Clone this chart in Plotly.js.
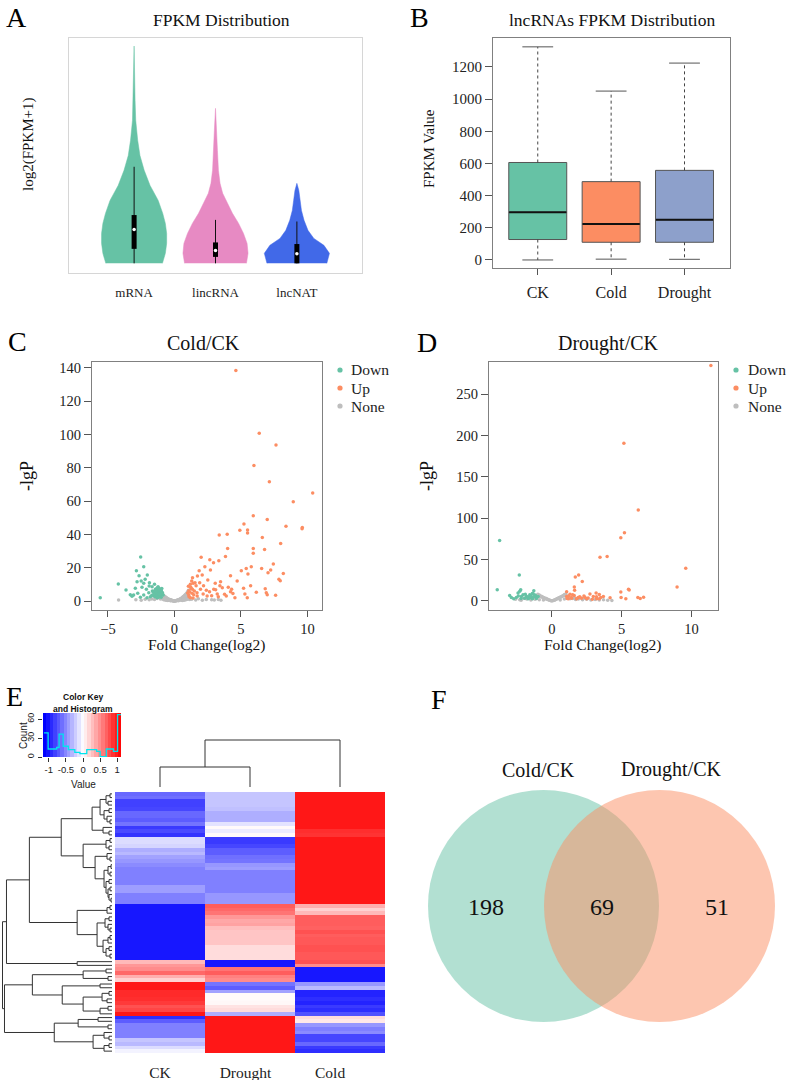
<!DOCTYPE html>
<html><head><meta charset="utf-8">
<script src="https://cdn.plot.ly/plotly-3.0.1.min.js"></script>
<style>html,body{margin:0;padding:0;background:#fff}#chart{width:787px;height:1080px}</style>
</head><body><div id="chart"></div>
<script>
// ================= DATA =================
// Panel A: violin outlines (level = log2(FPKM+1), density = relative half width)
const violinNames = ['mRNA', 'lincRNA', 'lncNAT'];
const mrnaLevels   = [0, 0.62, 1.24, 1.86, 2.48, 3.1, 3.91, 4.84, 5.78, 6.7, 7.64, 8.88, 10.1, 12.2, 13.5];
const mrnaDensity  = [0.87, 0.96, 1.0, 1.0, 0.96, 0.88, 0.74, 0.49, 0.31, 0.18, 0.11, 0.05, 0.03, 0.015, 0];
const lincLevels   = [0, 0.62, 1.24, 1.86, 2.48, 3.11, 3.73, 4.35, 4.97, 5.78, 7.0, 8.26, 9.63];
const lincDensity  = [0.95, 1.0, 0.97, 0.86, 0.71, 0.52, 0.37, 0.22, 0.14, 0.09, 0.06, 0.035, 0];
const natLevels    = [0, 0.62, 1.12, 1.55, 2.05, 2.67, 3.29, 3.91, 4.53, 4.97];
const natDensity   = [0.92, 1.0, 0.83, 0.52, 0.34, 0.22, 0.14, 0.1, 0.06, 0];
const aMin = [0, 0, 0], aQ1 = [0.9, 0.4, 0], aMed = [2.1, 0.8, 0.6], aQ3 = [3.0, 1.3, 1.2], aMax = [6.0, 2.7, 2.6];

// Panel B: lncRNA FPKM box statistics
const bCats = ['CK', 'Cold', 'Drought'];
const bMin = [0, 5, 4], bQ1 = [127, 110, 110], bMed = [296, 223, 250], bQ3 = [606, 487, 557], bMax = [1325, 1050, 1224];

// Panels C/D legend
const volcanoClasses = ['Down', 'Up', 'None'];

// Panel C: Cold/CK volcano  [log2 fold change, -lgP]
const coldUp = [[4.62,138.5],[6.38,100.8],[7.64,93.8],[5.98,81.4],[7.14,71.7],[10.4,64.9],[8.94,59.7],[5.93,51.3],[6.98,48.9],[5.23,46.3],[8.39,44.9],[9.62,44.1],[9.6,43.4],[4.92,42.5],[5.5,42.7],[5.5,40.9],[3.37,39.7],[3.97,40.1],[6.61,38.1],[7.99,34.5],[4.0,31.5],[5.93,31.5],[6.78,30.9],[5.93,28.7],[3.84,26.7],[2.01,26.3],[2.66,24.8],[3.34,24.2],[2.94,23.0],[7.44,22.2],[2.29,20.6],[5.78,20.6],[5.4,19.6],[6.56,19.6],[2.71,18.6],[1.86,18.2],[5.03,18.2],[7.24,18.6],[8.19,16.6],[7.04,17.0],[5.53,16.2],[4.22,15.2],[2.09,15.6],[1.73,15.0],[1.36,14.0],[2.51,12.6],[7.86,13.0],[7.96,12.2],[4.72,12.0],[3.47,11.6],[1.41,10.6],[3.07,10.6],[1.63,9.2],[2.19,9.2],[5.73,9.2],[3.42,9.2],[4.05,8.2],[5.2,7.6],[6.83,7.4],[1.23,8.2],[1.96,7.0],[2.96,7.0],[1.08,6.2],[2.64,5.6],[4.22,5.6],[6.16,5.2],[6.91,5.0],[1.33,4.6],[2.16,4.2],[3.22,4.2],[3.77,4.0],[5.3,4.2],[6.98,3.8],[7.61,3.4],[1.08,3.6],[1.71,3.0],[2.46,3.0],[4.55,2.0],[5.48,2.0],[1.2,10],[1.5,6],[1.3,12],[1.7,5],[1.1,2.5],[1.4,1.8],[1.9,11],[2.4,6.5],[2.8,3.2],[3.1,6.8],[3.3,2.5],[3.6,8],[3.9,3],[4.3,7],[4.4,4.5],[1.25,7.5],[1.55,11],[1.0,4.8],[1.15,5.4],[1.35,7.0],[1.05,8.8],[1.45,3.8],[1.2,2.0]];
const coldDown = [[-5.58,2.0],[-4.22,10.2],[-3.64,6.6],[-3.32,3.8],[-3.07,3.6],[-2.54,26.5],[-2.86,18.2],[-2.31,20.6],[-2.66,15.2],[-2.04,15.6],[-2.81,11.6],[-2.31,10.6],[-2.94,7.6],[-2.44,8.2],[-1.88,11.0],[-2.11,7.0],[-1.68,8.6],[-2.76,4.6],[-2.31,3.6],[-1.93,5.0],[-1.56,3.0],[-1.38,6.6],[-1.23,8.6],[-1.11,7.0],[-1.31,5.0],[-0.98,5.6],[-1.16,4.2],[-1.43,3.6],[-1.66,6.0],[-1.06,3.2],[-1.81,2.6],[-2.06,2.0],[-0.93,4.6],[-1.51,5.0],[-1.26,2.6],[-2.56,2.2],[-3.19,2.8],[-0.85,3.6],[-1.2,6],[-1.0,6.5],[-1.4,4],[-1.1,3],[-1.3,7.5],[-1.6,5.5],[-1.9,9],[-2.2,13],[-2.5,12],[-1.5,10],[-0.95,7.5],[-1.05,4],[-1.25,3.5],[-1.45,2.5],[-1.15,5.5],[-1.35,4.5],[-1.0,2.2],[-1.1,5.2],[-1.2,4.6],[-1.3,6.2],[-1.4,5.4],[-1.25,3.0],[-1.05,6.0],[-1.15,7.6],[-1.35,3.2],[-1.45,6.8],[-1.0,3.8],[-1.2,2.2],[-1.1,4.0],[-1.3,2.0],[-0.9,5.0],[-1.4,7.2],[-1.55,4.2],[-1.7,3.4],[-1.28,8.0],[-1.18,6.6]];
const coldNone = [[-4.2,0.6],[-2.9,0.8],[-2.5,0.5],[-2.2,1.0],[-1.9,0.7],[-1.7,1.2],[-1.5,0.9],[-1.3,1.5],[-1.2,2.5],[-1.1,3.8],[-1.05,1.2],[-1.0,4.6],[-0.98,2.0],[-0.95,5.2],[-0.92,3.0],[-0.9,4.1],[-0.87,1.5],[-0.85,3.6],[-0.82,2.4],[-0.8,3.2],[-0.78,1.1],[-0.75,2.8],[-0.72,2.0],[-0.7,2.5],[-0.68,0.9],[-0.65,2.2],[-0.62,1.6],[-0.6,1.9],[-0.58,0.7],[-0.55,1.6],[-0.52,1.2],[-0.5,1.4],[-0.48,0.6],[-0.45,1.1],[-0.42,0.8],[-0.4,1.0],[-0.38,0.5],[-0.35,0.8],[-0.32,0.6],[-0.3,0.7],[-0.28,0.3],[-0.25,0.5],[-0.22,0.4],[-0.2,0.4],[-0.18,0.2],[-0.15,0.3],[-0.12,0.2],[-0.1,0.2],[-0.08,0.1],[-0.05,0.1],[-0.02,0.05],[0,0.05],[0.02,0.1],[0.05,0.1],[0.08,0.2],[0.1,0.2],[0.12,0.15],[0.15,0.3],[0.18,0.35],[0.2,0.4],[0.22,0.3],[0.25,0.5],[0.28,0.6],[0.3,0.7],[0.32,0.5],[0.35,0.9],[0.38,0.7],[0.4,1.1],[0.42,0.8],[0.45,1.3],[0.48,0.9],[0.5,1.5],[0.52,1.1],[0.55,1.8],[0.58,1.3],[0.6,2.1],[0.62,1.5],[0.65,2.5],[0.68,1.6],[0.7,2.8],[0.72,2.0],[0.75,3.2],[0.78,2.2],[0.8,3.6],[0.82,2.6],[0.85,4.0],[0.88,2.9],[0.9,4.4],[0.92,3.1],[0.95,5.0],[0.98,3.4],[1.0,5.6],[1.02,2.2],[1.05,6.4],[1.1,1.5],[1.15,0.9],[1.3,1.1],[1.6,0.6],[1.8,1.3],[2.1,0.5],[2.4,0.9],[2.8,0.8],[3.0,0.6],[3.3,0.9],[3.5,0.5],[-0.9,1.2],[-0.7,0.6],[-0.5,0.3],[-0.3,0.2],[0.3,0.2],[0.5,0.4],[0.7,0.5],[0.9,0.9],[-0.8,0.8],[-0.6,0.4],[0.6,0.3],[0.8,0.6],[1.0,1.0],[-1.0,1.8]];

// Panel D: Drought/CK volcano
const droughtUp = [[11.39,284.7],[5.16,190.6],[6.19,110.1],[5.2,82.5],[4.94,76.3],[3.45,52.8],[3.96,53.6],[9.59,39.6],[1.92,31.4],[1.68,28.9],[2.18,23.5],[1.61,16.9],[8.97,16.9],[5.49,14.0],[1.63,12.8],[4.94,10.7],[1.06,11.1],[3.17,9.5],[2.73,8.3],[3.4,7.8],[1.49,7.4],[4.96,4.1],[5.3,2.5],[6.16,4.1],[6.57,4.5],[6.33,2.9],[4.17,3.7],[3.69,5.4],[2.97,5.4],[2.37,4.5],[1.89,4.1],[1.06,5.4],[1.18,2.5],[1.41,3.3],[1.77,2.5],[2.13,3.3],[2.49,2.5],[3.21,2.5],[3.5,4.1],[1.2,6],[1.4,4],[1.6,6.5],[1.8,3],[2.0,5],[2.3,6],[2.6,3.5],[2.9,2],[3.2,5],[3.4,2.5],[1.1,3],[1.3,8],[5.54,13.2]];
const droughtDown = [[-3.74,73.0],[-3.91,13.6],[-2.33,31.4],[-2.23,13.6],[-2.3,11.6],[-3.02,6.6],[-2.73,2.5],[-2.54,4.1],[-2.06,7.4],[-1.82,5.4],[-1.58,7.4],[-1.29,12.4],[-1.46,4.1],[-1.18,6.2],[-1.7,2.5],[-1.94,3.3],[-2.18,5.4],[-1.34,8.7],[-1.1,4.5],[-1.39,2.5],[-2.42,9.5],[-2.9,4.1],[-0.98,5.4],[-1.5,6],[-1.7,5],[-1.9,8],[-1.4,9],[-1.2,7],[-1.1,3],[-2.2,3],[-2.4,6],[-1.6,3.5],[-1.3,5]];
const droughtNone = [[-2.6,2.0],[-2.3,1.5],[-2.0,3.0],[-1.8,2.2],[-1.6,4.0],[-1.4,3.5],[-1.25,5.0],[-1.1,4.2],[-1.0,8.0],[-0.95,6.5],[-0.9,7.2],[-0.85,5.5],[-0.8,6.0],[-0.75,4.8],[-0.7,5.2],[-0.65,4.0],[-0.6,4.2],[-0.55,3.2],[-0.5,3.5],[-0.45,2.6],[-0.4,2.8],[-0.35,2.0],[-0.3,2.0],[-0.25,1.4],[-0.2,1.2],[-0.15,0.8],[-0.1,0.6],[-0.05,0.3],[0,0.2],[0.05,0.3],[0.1,0.6],[0.15,0.9],[0.2,1.2],[0.25,1.5],[0.3,2.0],[0.35,2.3],[0.4,2.8],[0.45,3.2],[0.5,3.6],[0.55,4.0],[0.6,4.4],[0.65,4.8],[0.7,5.3],[0.75,5.6],[0.8,6.2],[0.85,6.8],[0.9,7.4],[0.95,7.8],[1.0,8.5],[1.05,6.0],[1.1,3.2],[1.3,2.5],[1.5,3.0],[1.7,1.8],[1.9,2.4],[2.2,1.5],[2.5,2.0],[2.8,1.2],[3.1,1.6],[3.4,1.0],[3.7,1.4],[4.0,0.8],[4.3,0.5],[-1.2,2.0],[-0.9,1.5],[-0.6,1.0],[0.6,1.2],[0.9,2.2],[1.2,4.5],[1.6,4.2],[2.0,3.6],[2.4,2.8],[-2.2,0.8],[-1.5,1.2]];

// Panel E: heatmap (rows x [CK, Drought, Cold]), colour key and histogram
const heatCols = ['CK', 'Drought', 'Cold'];
const heatRows = [
 [-0.65,-0.25,1],[-0.62,-0.25,1],[-0.82,-0.25,1],[-0.82,-0.25,1],[-0.8,-0.27,1],[-0.65,-0.35,1],[-0.65,-0.35,1],[-0.7,-0.35,1],
 [-0.6,-0.12,1],[-0.85,0.02,1],[-0.78,-0.08,0.9],[-0.88,0.02,0.88],[-0.15,-0.85,1],[-0.15,-0.85,1],[-0.18,-0.8,1],[-0.35,-0.7,1],
 [-0.3,-0.7,1],[-0.4,-0.62,1],[-0.45,-0.6,1],[-0.5,-0.45,1],[-0.55,-0.42,1],[-0.55,-0.55,1],[-0.55,-0.55,1],[-0.55,-0.55,1],
 [-0.55,-0.55,1],[-0.42,-0.55,1],[-0.42,-0.55,1],[-0.55,-0.45,1],[-0.55,-0.45,1],[-0.55,-0.45,1],[-1,0.7,0.35],[-1,0.65,0.2],
 [-1,0.6,0.3],[-1,0.45,0.7],[-1,0.38,0.7],[-1,0.4,0.7],[-1,0.28,0.68],[-1,0.25,0.75],[-1,0.25,0.7],[-1,0.25,0.72],
 [-1,0.25,0.72],[-1,0.15,0.75],[-1,0.15,0.75],[-1,0.15,0.72],[-1,0.15,0.72],[0.3,-1,0.75],[0.45,-1,0.5],[0.5,0.6,-1],
 [0.65,0.7,-1],[0.35,0.55,-1],[0.2,0.5,-1],[1,-0.6,-0.45],[1,-0.7,-0.3],[0.92,-0.4,-0.95],[0.92,0.02,-0.95],[0.9,0.02,-0.9],
 [0.85,0.03,-0.95],[0.75,0.12,-0.85],[0.8,0.15,-0.9],[1,-0.35,-0.75],[-0.9,1,0.15],[-0.7,1,0.1],[-0.55,1,-0.45],[-0.55,1,-0.55],
 [-0.55,1,-0.5],[-0.55,1,-0.8],[-0.25,1,-0.8],[-0.3,1,-0.65],[-0.15,1,-0.85],[-0.05,1,-0.9]
];
// row dendrogram: [height, left, right], leaf = row index
const rowTree = [110,
  [106, [83, [51, [20, [12, [6,[2,0,1],[4,2,3]], [8,[3,4,5],[5,6,[2,7,8]]]], [9, 9, [3,10,11]]],
                  [29, [6,[2,12,13],[3,14,15]], [17, [5,16,[2,17,18]], [8,[4,[1,19,20],[2,21,22]],[6,[3,23,24],[4,[2,25,26],[3,27,[1,28,29]]]]]]]],
             [35, [5,[2,30,31],32], [15, [7,[3,33,34],[4,35,[2,36,37]]], [9,[4,[2,38,39],40],[6,[3,41,42],[2,43,44]]]]]],
        [35, 45, 46]],
  [108, [80, [29,[6,47,48],[4,49,50]], [50, [12,51,52], [29,[10,[3,53,54],[5,55,56]],[12,[4,57,58],59]]]],
        [58, [34,[14,60,61],[4,62,63]], [19,[8,64,[3,65,66]],[8,[3,67,68],69]]]]];
const colTree = [47, [20, 0, 1], 2];
const keyEdges = [-1.17,-1.07,-0.97,-0.87,-0.77,-0.67,-0.57,-0.47,-0.37,-0.27,-0.17,-0.07,0.03,0.13,0.23,0.33,0.43,0.53,0.63,0.73,0.83,0.93,1.03,1.11];
const keyValues = [-1.12,-1.02,-0.92,-0.82,-0.72,-0.62,-0.52,-0.42,-0.32,-0.22,-0.12,-0.02,0.08,0.18,0.28,0.38,0.48,0.58,0.68,0.78,0.88,0.98,1.07];
const histEdges = [-1.14,-1.02,-0.77,-0.70,-0.58,-0.43,-0.24,-0.09,0.11,0.40,0.50,0.68,0.89,1.01,1.11];
const histCounts = [38,12.6,15,36,17,11.6,7.4,5.3,11.6,9,0.5,12.6,9,67];

// Panel F: Venn
const vennSets = ['Cold/CK', 'Drought/CK'];
const vennCounts = [198, 69, 51]; // Cold only, shared, Drought only

// ================= STYLE / LAYOUT =================
const W = 787, H = 1080;
const SERIF = '"Liberation Serif", "Times New Roman", serif';
const SANS = '"Liberation Sans", Arial, sans-serif';
const dx = (a, b) => [a / W, b / W];
const dy = (t, b) => [1 - b / H, 1 - t / H];
const PX = v => v / W, PY = v => 1 - v / H;
const violinColors = ['#66c2a5', '#e78ac3', '#4169e8'];
const boxColors = ['#66c2a5', '#fc8d62', '#8da0cb'];
const classColors = ['#66c2a5', '#fc8d62', '#bebebe'];
const heatScale = [[0, '#0000ff'], [0.5, '#ffffff'], [1, '#ff0000']];
const VH = 0.40;

const traces = [];
const noHover = {hoverinfo: 'skip', showlegend: false};

// --- A: violins
const vLev = [mrnaLevels, lincLevels, natLevels];
const vDen = [mrnaDensity, lincDensity, natDensity];
vLev.forEach((lev, i) => {
  const den = vDen[i];
  const xs = den.map(d => i + d * VH).concat(den.slice().reverse().map(d => i - d * VH));
  const ys = lev.concat(lev.slice().reverse());
  traces.push(Object.assign({type: 'scatter', mode: 'lines', x: xs, y: ys, fill: 'toself',
    fillcolor: violinColors[i], line: {color: violinColors[i], width: 0.5}, xaxis: 'x', yaxis: 'y'}, noHover));
});
// inner box plots (whisker, IQR bar, median dot)
const awx = [], awy = [], abx = [], aby = [];
violinNames.forEach((n, i) => {
  awx.push(i, i, null); awy.push(aMin[i], aMax[i], null);
  abx.push(i, i, null); aby.push(aQ1[i], aQ3[i], null);
});
traces.push(Object.assign({type: 'scatter', mode: 'lines', x: awx, y: awy, line: {color: '#111', width: 1}, xaxis: 'x', yaxis: 'y'}, noHover));
traces.push(Object.assign({type: 'scatter', mode: 'lines', x: abx, y: aby, line: {color: '#000', width: 5}, xaxis: 'x', yaxis: 'y'}, noHover));
traces.push(Object.assign({type: 'scatter', mode: 'markers', x: [0, 1, 2], y: aMed,
  marker: {color: '#fff', size: 3.5}, xaxis: 'x', yaxis: 'y'}, noHover));

// --- B: boxes
bCats.forEach((c, i) => {
  traces.push(Object.assign({type: 'box', x: [i], q1: [bQ1[i]], median: [bMed[i]], q3: [bQ3[i]],
    lowerfence: [bQ1[i]], upperfence: [bQ3[i]], fillcolor: boxColors[i], line: {color: '#555', width: 1},
    width: 0.79, whiskerwidth: 0, boxpoints: false, xaxis: 'x2', yaxis: 'y2'}, noHover));
});
const wx = [], wy = [], cx = [], cy = [], mx = [], my = [];
bCats.forEach((c, i) => {
  wx.push(i, i, null, i, i, null); wy.push(bQ3[i], bMax[i], null, bQ1[i], bMin[i], null);
  cx.push(i - 0.21, i + 0.21, null, i - 0.21, i + 0.21, null); cy.push(bMax[i], bMax[i], null, bMin[i], bMin[i], null);
  mx.push(i - 0.39, i + 0.39, null); my.push(bMed[i], bMed[i], null);
});
traces.push(Object.assign({type: 'scatter', mode: 'lines', x: wx, y: wy, line: {color: '#444', width: 1, dash: 'dot'}, xaxis: 'x2', yaxis: 'y2'}, noHover));
traces.push(Object.assign({type: 'scatter', mode: 'lines', x: cx, y: cy, line: {color: '#555', width: 1}, xaxis: 'x2', yaxis: 'y2'}, noHover));
traces.push(Object.assign({type: 'scatter', mode: 'lines', x: mx, y: my, line: {color: '#111', width: 2}, xaxis: 'x2', yaxis: 'y2'}, noHover));

// --- C & D: volcanoes
function volc(pts, ci, xa, ya) {
  return Object.assign({type: 'scatter', mode: 'markers', name: volcanoClasses[ci], x: pts.map(p => p[0]), y: pts.map(p => p[1]),
    marker: {color: classColors[ci], size: 3.5}, xaxis: xa, yaxis: ya}, noHover);
}
traces.push(volc(coldNone, 2, 'x3', 'y3'));
traces.push(volc(coldDown, 0, 'x3', 'y3'));
traces.push(volc(coldUp, 1, 'x3', 'y3'));
traces.push(volc(droughtNone, 2, 'x4', 'y4'));
traces.push(volc(droughtDown, 0, 'x4', 'y4'));
traces.push(volc(droughtUp, 1, 'x4', 'y4'));

// --- E: colour key + histogram
traces.push(Object.assign({type: 'heatmap', x: keyEdges, y: [0, 69.5], z: [keyValues], colorscale: heatScale,
  zmin: -1.1, zmax: 1.1, showscale: false, xaxis: 'x5', yaxis: 'y5'}, noHover));
traces.push(Object.assign({type: 'scatter', mode: 'lines', x: histEdges, y: histCounts.concat([histCounts[histCounts.length - 1]]),
  line: {color: '#00e5ee', width: 1.3, shape: 'hv'}, xaxis: 'x5', yaxis: 'y5'}, noHover));
// main heatmap
traces.push(Object.assign({type: 'heatmap', x: [0, 1, 2], y: heatRows.map((r, i) => i), z: heatRows, colorscale: heatScale,
  zmin: -1.1, zmax: 1.1, showscale: false, xaxis: 'x6', yaxis: 'y6'}, noHover));
// dendrograms
function dendro(node, segs) {
  if (typeof node === 'number') return {p: node, h: 0};
  const A = dendro(node[1], segs), B = dendro(node[2], segs), h = node[0];
  segs.push([A.h, A.p, h, A.p], [h, A.p, h, B.p], [h, B.p, B.h, B.p]);
  return {p: (A.p + B.p) / 2, h: h};
}
const rs = []; dendro(rowTree, rs);
const rx = [], ry = [];
rs.forEach(s => { rx.push(s[0], s[2], null); ry.push(s[1], s[3], null); });
traces.push(Object.assign({type: 'scatter', mode: 'lines', x: rx, y: ry, line: {color: '#333', width: 1}, xaxis: 'x7', yaxis: 'y7'}, noHover));
const cs = []; dendro(colTree, cs);
const ccx = [], ccy = [];
cs.forEach(s => { ccx.push(s[1], s[3], null); ccy.push(s[0], s[2], null); });
traces.push(Object.assign({type: 'scatter', mode: 'lines', x: ccx, y: ccy, line: {color: '#333', width: 1}, xaxis: 'x8', yaxis: 'y8'}, noHover));

// ================= AXES =================
const base = {showgrid: false, zeroline: false, fixedrange: true};
const boxAxis = (extra) => Object.assign({}, base, {showline: true, mirror: true, linecolor: '#808080', linewidth: 1,
  ticks: 'outside', ticklen: 6, tickcolor: '#555', tickfont: {family: SERIF, size: 14.5, color: '#222'}}, extra);
const hidden = (extra) => Object.assign({}, base, {visible: false}, extra);

const layout = {
  width: W, height: H, margin: {l: 0, r: 0, t: 0, b: 0}, paper_bgcolor: '#fff', plot_bgcolor: 'rgba(0,0,0,0)',
  boxmode: 'overlay', hovermode: false, showlegend: false,
  font: {family: SERIF, color: '#222'},
  xaxis: Object.assign({}, base, {domain: dx(69, 362), anchor: 'y', range: [-0.8, 2.8], tickvals: [0, 1, 2], ticktext: violinNames,
    ticks: '', showline: true, mirror: true, linecolor: '#d6d6d6', tickfont: {family: SERIF, size: 13, color: '#222'}, ticklabelstandoff: 7}),
  yaxis: Object.assign({}, base, {domain: dy(38, 273), anchor: 'x', range: [-0.6, 14], showticklabels: false, ticks: '',
    showline: true, mirror: true, linecolor: '#d6d6d6'}),
  xaxis2: boxAxis({domain: dx(493, 730), anchor: 'y2', range: [-0.61, 2.62], tickvals: [0, 1, 2], ticktext: bCats,
    tickfont: {family: SERIF, size: 16, color: '#222'}, ticklabelstandoff: 4}),
  yaxis2: boxAxis({domain: dy(38, 268), anchor: 'x2', range: [-50, 1380], tickvals: [0, 200, 400, 600, 800, 1000, 1200],
    ticklen: 7, tickfont: {family: SERIF, size: 15, color: '#222'}}),
  xaxis3: boxAxis({domain: dx(92, 322), anchor: 'y3', range: [-6.2, 11.1], tickvals: [-5, 0, 5, 10]}),
  yaxis3: boxAxis({domain: dy(362, 610), anchor: 'x3', range: [-5.4, 143.6], tickvals: [0, 20, 40, 60, 80, 100, 120, 140], ticklen: 7}),
  xaxis4: boxAxis({domain: dx(489, 718), anchor: 'y4', range: [-4.5, 11.9], tickvals: [-5, 0, 5, 10]}),
  yaxis4: boxAxis({domain: dy(362, 610), anchor: 'x4', range: [-11, 289], tickvals: [0, 50, 100, 150, 200, 250], ticklen: 7}),
  xaxis5: Object.assign({}, base, {domain: dx(43, 121), anchor: 'y5', range: [-1.17, 1.11], tickvals: [-1, -0.5, 0, 0.5, 1],
    ticktext: ['-1', '-0.5', '0', '0.5', '1'], ticks: 'outside', ticklen: 4, tickcolor: '#333', showline: false,
    tickfont: {family: SANS, size: 9.5, color: '#222'}}),
  yaxis5: Object.assign({}, base, {domain: dy(713, 757), anchor: 'x5', range: [0, 69.5], tickvals: [0, 30, 60], tickangle: -90,
    ticks: 'outside', ticklen: 4, tickcolor: '#333', showline: false, tickfont: {family: SANS, size: 9, color: '#222'}}),
  xaxis6: Object.assign({}, base, {domain: dx(115, 385), anchor: 'y6', range: [-0.5, 2.5], tickvals: [0, 0.95, 1.89], ticktext: heatCols,
    ticks: '', showline: false, tickfont: {family: SERIF, size: 15.5, color: '#222'}, ticklabelstandoff: 8}),
  yaxis6: hidden({domain: dy(792, 1053), anchor: 'x6', range: [69.5, -0.5]}),
  xaxis7: hidden({domain: dx(2, 112), anchor: 'y7', range: [110.5, 0]}),
  yaxis7: hidden({domain: dy(792, 1053), anchor: 'x7', range: [69.5, -0.5]}),
  xaxis8: hidden({domain: dx(115, 385), anchor: 'y8', range: [-0.5, 2.5]}),
  yaxis8: hidden({domain: dy(739, 787), anchor: 'x8', range: [0, 48]}),
  shapes: [
    {type: 'circle', xref: 'paper', yref: 'paper', x0: PX(428), x1: PX(659), y0: PY(1022), y1: PY(790),
      fillcolor: 'rgba(102,194,165,0.5)', line: {width: 0}},
    {type: 'circle', xref: 'paper', yref: 'paper', x0: PX(544), x1: PX(775), y0: PY(1022), y1: PY(790),
      fillcolor: 'rgba(252,141,98,0.5)', line: {width: 0}}
  ],
  annotations: []
};

function ann(text, x, y, size, extra) {
  layout.annotations.push(Object.assign({text: text, x: PX(x), y: PY(y), xref: 'paper', yref: 'paper', showarrow: false,
    xanchor: 'center', yanchor: 'middle', font: {family: SERIF, size: size, color: '#111'}}, extra || {}));
}
// legends for volcano plots (marker dot + label)
[[340, 349], [736, 746]].forEach(pos => {
  volcanoClasses.forEach((name, k) => {
    const yc = 370 + 18 * k;
    layout.shapes.push({type: 'circle', xref: 'paper', yref: 'paper', x0: PX(pos[0] - 2.6), x1: PX(pos[0] + 2.6),
      y0: PY(yc + 2.6), y1: PY(yc - 2.6), fillcolor: classColors[k], line: {width: 0}});
    ann(name, pos[1], yc, 15.5, {xanchor: 'left', font: {family: SERIF, size: 15.5, color: '#222'}});
  });
});
// panel letters
[['A', 16.5, 0], ['B', 419.5, 0], ['C', 17, 324], ['D', 427, 325], ['E', 14, 679], ['F', 439, 682]]
  .forEach(l => ann(l[0], l[1], l[2], 28, {yanchor: 'top', font: {family: SERIF, size: 28, color: '#000'}}));
// titles
ann('FPKM Distribution', 221, 20, 17.5);
ann('lncRNAs FPKM Distribution', 612, 20, 17.5);
ann('Cold/CK', 203, 343, 20);
ann('Drought/CK', 608, 343, 20);
// axis titles
ann('log2(FPKM+1)', 28, 145, 15, {textangle: -90});
ann('FPKM Value', 429, 149, 15, {textangle: -90});
ann('-lgP', 27, 476, 18, {textangle: -90});
ann('-lgP', 427, 476, 18, {textangle: -90});
ann('Fold Change(log2)', 207, 645, 15.5);
ann('Fold Change(log2)', 603, 645, 15.5);
// colour key
ann('Color Key', 83, 697, 8.5, {font: {family: SANS, size: 8.5, color: '#111', weight: 'bold'}});
ann('and Histogram', 83, 709, 8.5, {font: {family: SANS, size: 8.5, color: '#111', weight: 'bold'}});
ann('Value', 83, 784, 10, {font: {family: SANS, size: 10, color: '#222'}});
ann('Count', 23, 736, 10, {font: {family: SANS, size: 10, color: '#222'}, textangle: -90});
// venn
ann(vennSets[0], 538, 770, 20);
ann(vennSets[1], 671, 770, 20);
ann(String(vennCounts[0]), 486, 907, 24);
ann(String(vennCounts[1]), 602, 907, 24);
ann(String(vennCounts[2]), 717, 907, 24);

Plotly.newPlot('chart', traces, layout, {displayModeBar: false, staticPlot: true});
</script>
</body></html>
